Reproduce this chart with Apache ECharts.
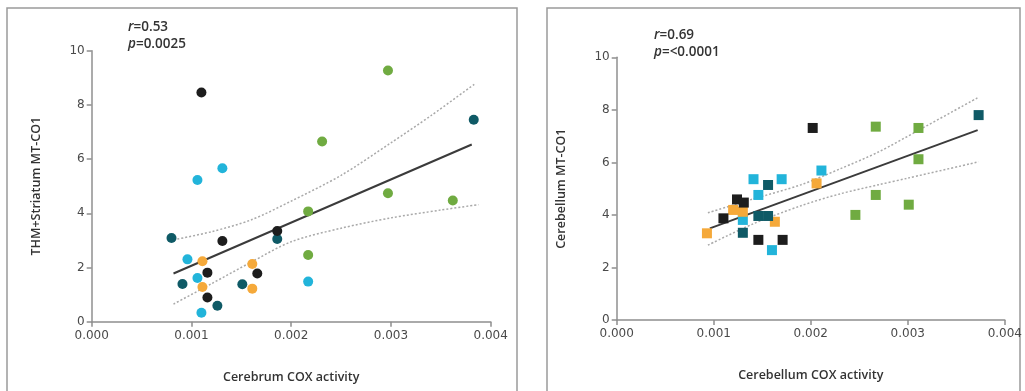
<!DOCTYPE html>
<html>
<head>
<meta charset="utf-8">
<script src="https://cdn.jsdelivr.net/npm/echarts@6/dist/echarts.min.js"></script>
<style>
  html, body { margin: 0; padding: 0; background: #fff; }
  #chart { width: 1025px; height: 391px; }
</style>
</head>
<body>
<div id="chart"></div>
<script>
// Axis ticks
const xTickInterval = 0.001;
const xMax = 0.004;
const yTickInterval = 2;
const yMax = 10;

// Cerebrum COX activity vs THM+Striatum MT-CO1 (circles), one array per group
const cerebrumBlack  = [[0.00110, 8.46], [0.00186, 3.35], [0.00131, 2.98], [0.00116, 1.81], [0.00166, 1.78], [0.00116, 0.89]];
const cerebrumTeal   = [[0.00383, 7.45], [0.00186, 3.05], [0.00080, 3.09], [0.00091, 1.39], [0.00151, 1.38], [0.00126, 0.59]];
const cerebrumCyan   = [[0.00131, 5.66], [0.00106, 5.23], [0.00096, 2.30], [0.00106, 1.61], [0.00217, 1.48], [0.00110, 0.33]];
const cerebrumOrange = [[0.00111, 2.23], [0.00161, 2.13], [0.00111, 1.28], [0.00161, 1.22]];
const cerebrumGreen  = [[0.00297, 9.27], [0.00231, 6.65], [0.00297, 4.74], [0.00362, 4.47], [0.00217, 4.07], [0.00217, 2.46]];

// Cerebrum regression line and 95% confidence band
const cerebrumFit   = [[0.00082, 1.78], [0.00381, 6.54]];
const cerebrumUpper = [[0.00082, 3.02], [0.0012, 3.32], [0.0016, 3.76], [0.0020, 4.45], [0.0025, 5.40], [0.0030, 6.60], [0.0034, 7.60], [0.00385, 8.80]];
const cerebrumLower = [[0.00082, 0.65], [0.0012, 1.40], [0.0016, 2.20], [0.0020, 2.95], [0.0025, 3.45], [0.0030, 3.83], [0.0035, 4.12], [0.00388, 4.32]];

// Cerebellum COX activity vs Cerebellum MT-CO1 (squares)
const cerebellumBlack  = [[0.00202, 7.31], [0.00124, 4.59], [0.00131, 4.47], [0.00110, 3.87], [0.00146, 3.05], [0.00171, 3.05]];
const cerebellumTeal   = [[0.00373, 7.80], [0.00156, 5.14], [0.00146, 3.96], [0.00156, 3.96], [0.00130, 3.32]];
const cerebellumCyan   = [[0.00211, 5.69], [0.00141, 5.36], [0.00170, 5.36], [0.00146, 4.76], [0.00130, 3.81], [0.00160, 2.66]];
const cerebellumOrange = [[0.00206, 5.20], [0.00120, 4.19], [0.00130, 4.12], [0.00163, 3.74], [0.00093, 3.30]];
const cerebellumGreen  = [[0.00267, 7.36], [0.00311, 7.31], [0.00311, 6.12], [0.00267, 4.76], [0.00301, 4.39], [0.00246, 4.00]];

const cerebellumFit   = [[0.00096, 3.49], [0.00372, 7.23]];
const cerebellumUpper = [[0.00094, 4.08], [0.0014, 4.60], [0.0019, 5.15], [0.0023, 5.75], [0.0027, 6.40], [0.0031, 7.20], [0.00373, 8.48]];
const cerebellumLower = [[0.00094, 2.85], [0.0014, 3.65], [0.0019, 4.35], [0.0023, 4.80], [0.0027, 5.15], [0.0030, 5.40], [0.00373, 6.02]];

// Stats text
const statsLeft  = { r: '0.53', p: '0.0025' };
const statsRight = { r: '0.69', p: '<0.0001' };

const groupColors = {
  black: '#1d1d1d',
  teal: '#0f5a66',
  cyan: '#22b4da',
  orange: '#f5a93a',
  green: '#70ab41'
};

const axisGray = '#8f8f8f';
const tickFont = { color: '#4a4a4a', fontSize: 12, fontFamily: 'DejaVu Sans' };
const nameFont = { color: '#333', fontSize: 12.5, fontWeight: 600, fontFamily: 'Open Sans' };

function xAxisFor(gridIndex, name) {
  return {
    gridIndex, type: 'value', min: 0, max: xMax, interval: xTickInterval,
    name, nameLocation: 'middle', nameGap: 49, nameTextStyle: nameFont,
    axisLine: { show: true, lineStyle: { color: axisGray, width: 1.5 } },
    axisTick: { show: true, length: 5, lineStyle: { color: axisGray, width: 1.5 } },
    axisLabel: { ...tickFont, margin: 8, formatter: v => v.toFixed(3) },
    splitLine: { show: false }
  };
}
function yAxisFor(gridIndex, name) {
  return {
    gridIndex, type: 'value', min: 0, max: yMax, interval: yTickInterval,
    name, nameLocation: 'middle', nameGap: 49, nameTextStyle: nameFont,
    axisLine: { show: true, lineStyle: { color: axisGray, width: 1.5 } },
    axisTick: { show: true, length: 5, lineStyle: { color: axisGray, width: 1.5 } },
    axisLabel: { ...tickFont, margin: 7 },
    splitLine: { show: false }
  };
}

function pointSeries(idx, data, color, symbol) {
  return {
    type: 'scatter', xAxisIndex: idx, yAxisIndex: idx, data,
    symbol, symbolSize: 10, z: 5,
    itemStyle: { color, opacity: 1 }
  };
}
function fitSeries(idx, data) {
  return {
    type: 'line', xAxisIndex: idx, yAxisIndex: idx, data, z: 3,
    symbol: 'none', lineStyle: { color: '#3b3b3b', width: 2 }
  };
}
function bandSeries(idx, data) {
  return {
    type: 'line', xAxisIndex: idx, yAxisIndex: idx, data, z: 2, smooth: 0.3,
    symbol: 'none', lineStyle: { color: '#a9a9a9', width: 1.5, type: [2, 2] }
  };
}

function statsTitle(left, top, s) {
  return {
    left, top,
    text: '{i|r}=' + s.r + '\n{i|p}=' + s.p,
    textStyle: {
      color: '#333', fontSize: 13.5, fontWeight: 600, fontFamily: 'Open Sans', lineHeight: 17,
      rich: { i: { fontStyle: 'italic', fontSize: 13.5, fontWeight: 600, fontFamily: 'Open Sans', color: '#333', lineHeight: 17 } }
    }
  };
}

const chart = echarts.init(document.getElementById('chart'), null, { renderer: 'canvas' });
chart.setOption({
  animation: false,
  backgroundColor: '#fff',
  title: [statsTitle(123, 14, statsLeft), statsTitle(649, 22, statsRight)],
  graphic: [
    { type: 'rect', shape: { x: 7, y: 8, width: 510, height: 420 }, style: { fill: 'none', stroke: '#9a9a9a', lineWidth: 1.5 } },
    { type: 'rect', shape: { x: 547, y: 8, width: 473, height: 420 }, style: { fill: 'none', stroke: '#9a9a9a', lineWidth: 1.5 } }
  ],
  grid: [
    { left: 91.7, top: 50.7, width: 399, height: 271 },
    { left: 616.7, top: 57.3, width: 388.3, height: 262.7 }
  ],
  xAxis: [xAxisFor(0, 'Cerebrum COX activity'), xAxisFor(1, 'Cerebellum COX activity')],
  yAxis: [yAxisFor(0, 'THM+Striatum MT-CO1'), yAxisFor(1, 'Cerebellum MT-CO1')],
  series: [
    bandSeries(0, cerebrumUpper),
    bandSeries(0, cerebrumLower),
    fitSeries(0, cerebrumFit),
    pointSeries(0, cerebrumGreen, groupColors.green, 'circle'),
    pointSeries(0, cerebrumCyan, groupColors.cyan, 'circle'),
    pointSeries(0, cerebrumOrange, groupColors.orange, 'circle'),
    pointSeries(0, cerebrumTeal, groupColors.teal, 'circle'),
    pointSeries(0, cerebrumBlack, groupColors.black, 'circle'),

    bandSeries(1, cerebellumUpper),
    bandSeries(1, cerebellumLower),
    fitSeries(1, cerebellumFit),
    pointSeries(1, cerebellumGreen, groupColors.green, 'rect'),
    pointSeries(1, cerebellumCyan, groupColors.cyan, 'rect'),
    pointSeries(1, cerebellumOrange, groupColors.orange, 'rect'),
    pointSeries(1, cerebellumTeal, groupColors.teal, 'rect'),
    pointSeries(1, cerebellumBlack, groupColors.black, 'rect')
  ]
});
</script>
</body>
</html>
